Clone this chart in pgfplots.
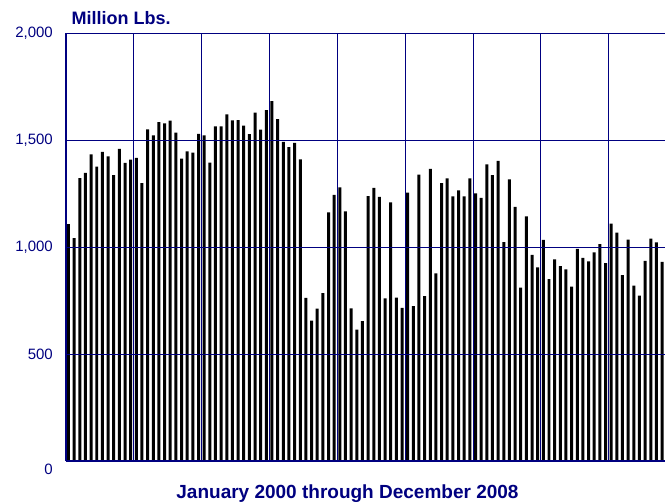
\documentclass[border=0pt]{standalone}
\usepackage{pgfplots}
\usepackage{pgfplotstable}
\pgfplotsset{compat=1.18}
\usepackage{fontspec}
\setmainfont{Liberation Sans}
\definecolor{navy}{RGB}{0,0,128}

% monthly values, Jan 2000 = 1 (the picture ends in Oct 2008)
\pgfplotstableread{
m v
1 1107
2 1042
3 1322
4 1346
5 1433
6 1375
7 1445
8 1424
9 1336
10 1458
11 1393
12 1408
13 1416
14 1298
15 1550
16 1522
17 1584
18 1578
19 1590
20 1534
21 1413
22 1447
23 1441
24 1529
25 1522
26 1394
27 1564
28 1564
29 1620
30 1592
31 1593
32 1567
33 1528
34 1628
35 1548
36 1640
37 1682
38 1598
39 1491
40 1467
41 1486
42 1410
43 762
44 656
45 712
46 785
47 1162
48 1243
49 1279
50 1167
51 713
52 614
53 654
54 1238
55 1276
56 1234
57 760
58 1209
59 763
60 715
61 1254
62 724
63 1338
64 771
65 1365
66 877
67 1298
68 1321
69 1237
70 1265
71 1237
72 1321
73 1251
74 1229
75 1386
76 1336
77 1403
78 1023
79 1316
80 1187
81 810
82 1143
83 963
84 905
85 1033
86 850
87 942
88 911
89 896
90 815
91 991
92 949
93 933
94 975
95 1013
96 925
97 1109
98 1067
99 868
100 1034
101 819
102 773
103 935
104 1039
105 1022
106 930
}\shipments

\begin{document}
\begin{tikzpicture}
\begin{axis}[
  name=ax,
  scale only axis,
  width=599pt, height=428pt,
  xmin=0.56, xmax=106.52,
  ymin=0, ymax=2000,
  axis x line=bottom, axis y line=left,
  axis line style={navy, line width=1.2pt, -},
  ytick={500,1000,1500,2000},
  yticklabels={500,{1,000},{1,500},{2,000}},
  extra y ticks={0},
  extra y tick style={yticklabel style={yshift=-8pt}},
  xtick={12.56,24.56,...,96.56},
  xticklabels={},
  ymajorgrids, xmajorgrids,
  grid style={navy, line width=0.9pt},
  major tick length=0pt,
  /pgf/number format/assume math mode=true,
  yticklabel style={font=\fontsize{15}{18}\selectfont, text=navy, inner sep=0pt, xshift=-13pt},
  axis on top,
]
\addplot[ybar, bar width=0.53, fill=black, draw=none] table[x=m,y=v]{\shipments};
\end{axis}
\node[anchor=base west, font=\bfseries\fontsize{18}{20}\selectfont, text=navy]
  at ([xshift=2pt,yshift=8.5pt]ax.north west) {Million Lbs.};
\node[anchor=base, font=\bfseries\fontsize{19}{22}\selectfont, text=navy]
  at ([xshift=281.5pt,yshift=-37.7pt]ax.south west) {January 2000 through December 2008};
\pgfresetboundingbox
\useasboundingbox ([xshift=-66pt,yshift=-42pt]ax.south west) rectangle ([yshift=33pt]ax.north east);
\end{tikzpicture}
\end{document}
